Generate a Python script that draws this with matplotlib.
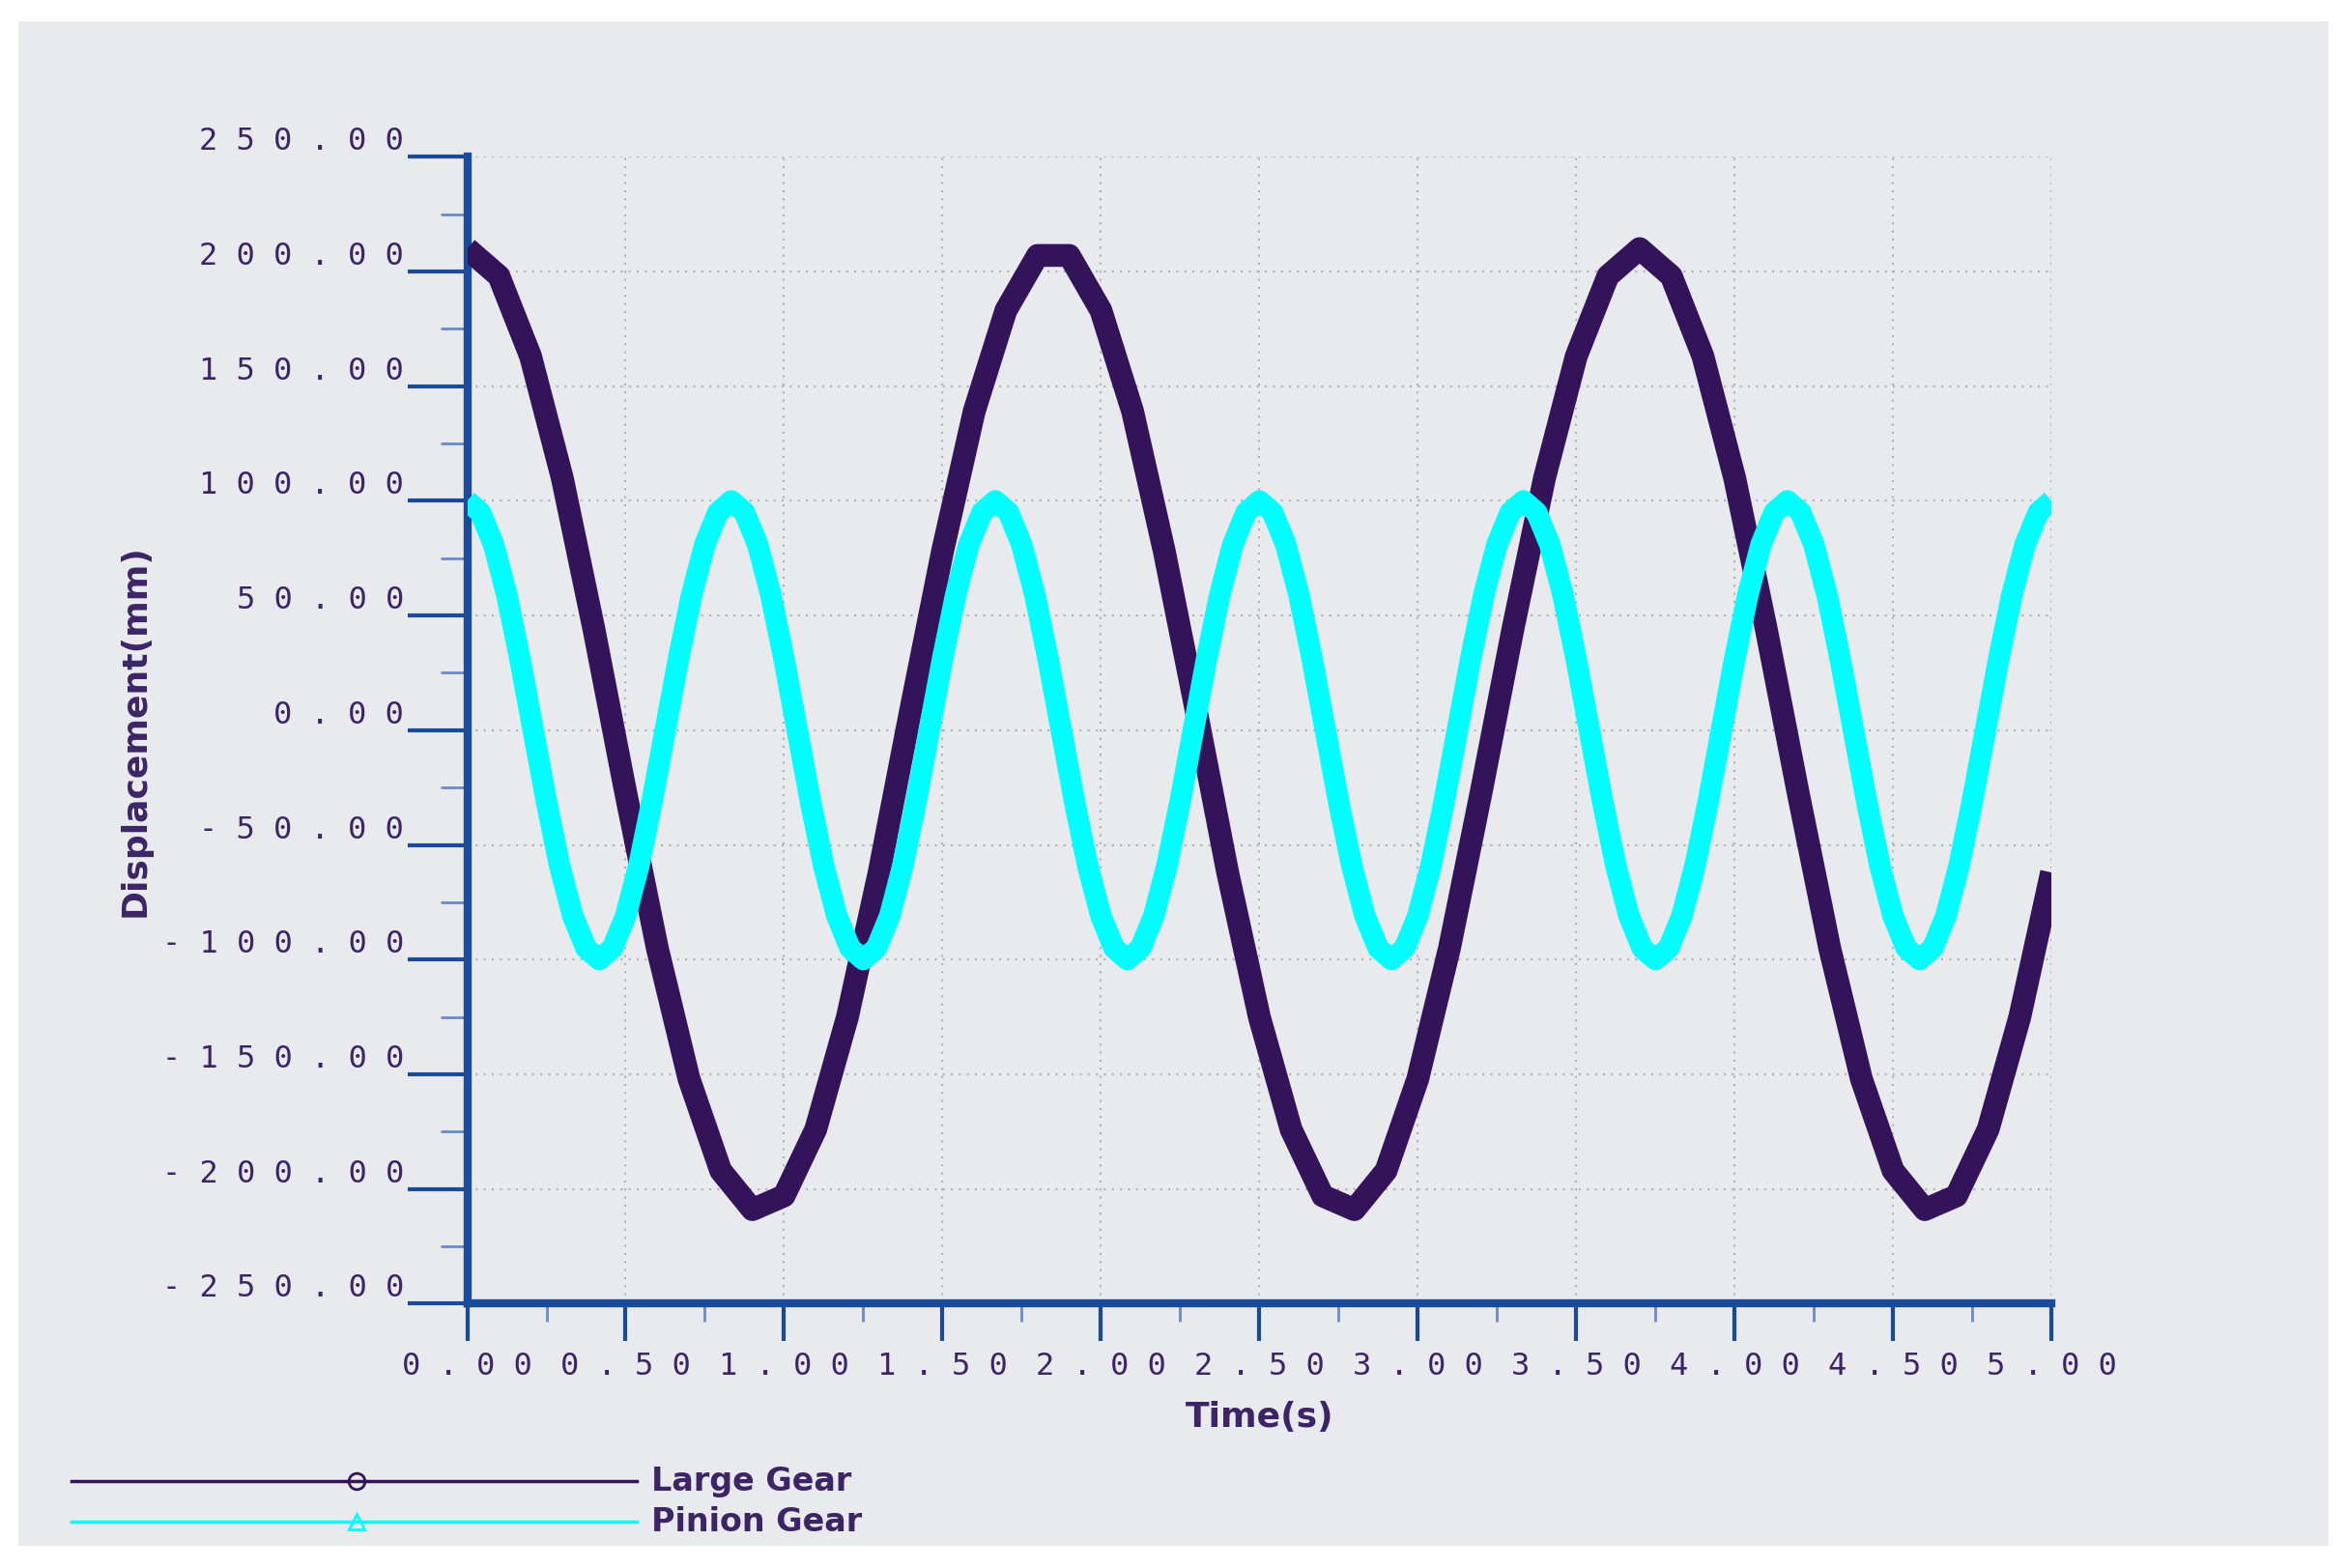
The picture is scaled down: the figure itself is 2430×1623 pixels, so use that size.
import numpy as np
import matplotlib
matplotlib.use("Agg")
import matplotlib.pyplot as plt
from matplotlib.patches import Rectangle
from matplotlib.lines import Line2D

# Large gear, sampled every 0.1 s
t_large = np.round(np.arange(0, 51) * 0.1, 2)
large = [210, 198, 163, 110, 44, -27, -95, -152, -192, -209,
         -203, -174, -125, -62, 9, 78, 139, 183, 207, 207,
         183, 139, 78, 9, -62, -125, -174, -203, -209, -192,
         -152, -95, -27, 44, 110, 163, 198, 210, 198, 163,
         110, 44, -27, -95, -152, -192, -209, -203, -174, -125, -62]

# Pinion gear, sampled every 1/24 s
pinion = [100, 95, 81, 59, 31, 0, -31, -59, -81, -95, -100, -95, -81, -59, -31, 0, 31, 59, 81, 95,
          100, 95, 81, 59, 31, 0, -31, -59, -81, -95, -100, -95, -81, -59, -31, 0, 31, 59, 81, 95,
          100, 95, 81, 59, 31, 0, -31, -59, -81, -95, -100, -95, -81, -59, -31, 0, 31, 59, 81, 95,
          100, 95, 81, 59, 31, 0, -31, -59, -81, -95, -100, -95, -81, -59, -31, 0, 31, 59, 81, 95,
          100, 95, 81, 59, 31, 0, -31, -59, -81, -95, -100, -95, -81, -59, -31, 0, 31, 59, 81, 95,
          100, 95, 81, 59, 31, 0, -31, -59, -81, -95, -100, -95, -81, -59, -31, 0, 31, 59, 81, 95, 100]
t_pinion = np.linspace(0, 5, len(pinion))

xticks = [0, 0.5, 1.0, 1.5, 2.0, 2.5, 3.0, 3.5, 4.0, 4.5, 5.0]
xlabels = ["0.00", "0.50", "1.00", "1.50", "2.00", "2.50", "3.00", "3.50", "4.00", "4.50", "5.00"]
yticks = [-250, -200, -150, -100, -50, 0, 50, 100, 150, 200, 250]
ylabels = ["-250.00", "-200.00", "-150.00", "-100.00", "-50.00", "0.00", "50.00",
           "100.00", "150.00", "200.00", "250.00"]

PURPLE = "#33145a"
CYAN = "#00ffff"
TXT = "#3d2466"
SPINE = "#1a4a9a"

fig = plt.figure(figsize=(24.3, 16.23), dpi=100)
fig.patch.set_facecolor("white")
fig.add_artist(Rectangle((12/1568, 15/1050), 1543/1568, 1021/1050, transform=fig.transFigure,
                         facecolor="#e9eaee", edgecolor="none", zorder=0))

ax = fig.add_axes([312/1568, 1-873/1050, (1370-312)/1568, (873-105)/1050])
ax.set_facecolor("none")
ax.plot(t_large, large, color=PURPLE, lw=17, solid_joinstyle="round", solid_capstyle="butt", zorder=3)
ax.plot(t_pinion, pinion, color=CYAN, lw=16, solid_joinstyle="round", solid_capstyle="butt", zorder=4)
ax.set_xlim(0, 5)
ax.set_ylim(-250, 250)

def spaced(s):
    return " ".join(s)

ax.set_xticks(xticks)
ax.set_xticklabels([spaced(s) for s in xlabels], family="DejaVu Sans Mono", fontsize=23, color=TXT)
ax.set_yticks(yticks)
ax.set_yticklabels([spaced(s) for s in ylabels], family="DejaVu Sans Mono", fontsize=23, color=TXT)
ax.set_xticks(np.arange(0, 5.01, 0.25), minor=True)
ax.set_yticks(np.arange(-250, 251, 25), minor=True)
ax.tick_params(axis="y", which="major", length=45, width=3, color=SPINE, pad=2)
ax.tick_params(axis="y", which="minor", length=20, width=2, color="#6a8ac8")
ax.tick_params(axis="x", which="major", length=28, width=3, color=SPINE, pad=8)
ax.tick_params(axis="x", which="minor", length=14, width=2, color="#6a8ac8")
for lab in ax.get_yticklabels():
    lab.set_verticalalignment("bottom")
for s in ["top", "right"]:
    ax.spines[s].set_visible(False)
for s in ["left", "bottom"]:
    ax.spines[s].set_color(SPINE)
    ax.spines[s].set_linewidth(6)
ax.grid(True, which="major", linestyle=(0, (1, 3)), color="#b0b0b0", lw=1.5)
ax.set_xlabel("Time(s)", fontsize=26, fontweight="bold", color=TXT, labelpad=14)
ax.set_ylabel("Displacement(mm)", fontsize=26, fontweight="bold", color=TXT, labelpad=8)

# legend
fig.add_artist(Line2D([48/1568, 425/1568], [1-992/1050]*2, color=PURPLE, lw=2.5,
                      transform=fig.transFigure))
fig.add_artist(Line2D([238/1568], [1-992/1050], color=PURPLE, marker="o", ms=12, mfc="none",
                      mew=2, transform=fig.transFigure))
fig.add_artist(Line2D([48/1568, 425/1568], [1-1019/1050]*2, color=CYAN, lw=2.5,
                      transform=fig.transFigure))
fig.add_artist(Line2D([238/1568], [1-1019/1050], color=CYAN, marker="^", ms=12, mfc="none",
                      mew=2, transform=fig.transFigure))
fig.text(435/1568, 1-992/1050, "Large Gear", fontsize=24, fontweight="bold", color=TXT, va="center")
fig.text(435/1568, 1-1019/1050, "Pinion Gear", fontsize=24, fontweight="bold", color=TXT, va="center")

fig.savefig("out.png", dpi=100)
